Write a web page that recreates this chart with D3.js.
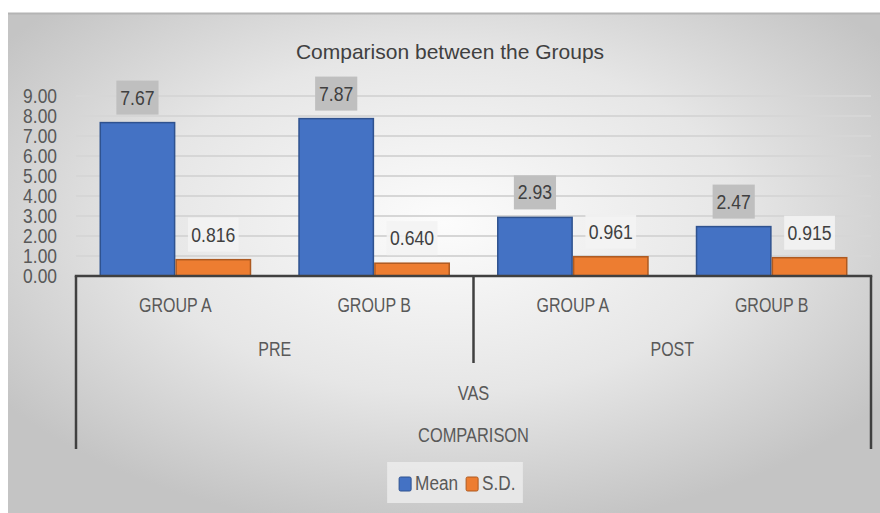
<!DOCTYPE html>
<html>
<head>
<meta charset="utf-8">
<script src="https://cdn.jsdelivr.net/npm/d3@7"></script>
<style>
  body { margin: 0; background: #fff; }
  svg { display: block; }
  text { font-family: "Liberation Sans", Arial, sans-serif; fill: #595959; }
</style>
</head>
<body>
<div id="chart"></div>
<script>
// chart values
const groups = ["GROUP A", "GROUP B", "GROUP A", "GROUP B"];
const phases = ["PRE", "POST"];
const outerLabels = ["VAS", "COMPARISON"];
const seriesNames = ["Mean", "S.D."];
const meanVals = [7.67, 7.87, 2.93, 2.47];
const sdVals = [0.816, 0.640, 0.961, 0.915];
const yTicks = [0, 1, 2, 3, 4, 5, 6, 7, 8, 9];

const width = 880, height = 513;
const colors = { "Mean": "#4472C4", "S.D.": "#ED7D31" };
const strokes = { "Mean": "#2F528F", "S.D.": "#AE5A21" };

// the source font is condensed, so squeeze the text horizontally
function squeeze(sel, k) {
  sel.each(function() {
    const w = this.getComputedTextLength();
    d3.select(this)
      .attr("textLength", w * k)
      .attr("lengthAdjust", "spacingAndGlyphs");
  });
}

const svg = d3.select("#chart").append("svg")
  .attr("width", width)
  .attr("height", height);

// background gradient
const defs = svg.append("defs");
const grad = defs.append("radialGradient")
  .attr("id", "bg")
  .attr("cx", "50%").attr("cy", "42%").attr("r", "62%");
grad.append("stop").attr("offset", "0%").attr("stop-color", "#fcfcfc");
grad.append("stop").attr("offset", "55%").attr("stop-color", "#e6e6e6");
grad.append("stop").attr("offset", "100%").attr("stop-color", "#c4c4c4");

svg.append("rect")
  .attr("x", 8).attr("y", 13)
  .attr("width", width - 8).attr("height", height - 13)
  .attr("fill", "url(#bg)");
svg.append("line")
  .attr("x1", 8).attr("x2", width)
  .attr("y1", 13.5).attr("y2", 13.5)
  .attr("stroke", "#b4b4b4").attr("stroke-width", 2);

// title
svg.append("text")
  .attr("x", 450).attr("y", 59)
  .attr("text-anchor", "middle")
  .style("font-size", "21px")
  .style("fill", "#404040")
  .text("Comparison between the Groups");

// scales
const plotLeft = 76, plotRight = 871;
const x0 = d3.scaleBand().domain(d3.range(groups.length)).range([plotLeft, plotRight]).padding(0);
const x1 = d3.scaleBand().domain(seriesNames).range([0, x0.bandwidth()]).paddingInner(0).paddingOuter(0.31);
const y = d3.scaleLinear().domain([0, 9]).range([276, 96]);

// gridlines
svg.append("g")
  .selectAll("line")
  .data(yTicks.filter(d => d > 0))
  .enter()
  .append("line")
  .attr("x1", plotLeft).attr("x2", plotRight)
  .attr("y1", d => y(d)).attr("y2", d => y(d))
  .attr("stroke", "#d6d6d6")
  .attr("stroke-width", 2);

// y axis labels
const yAxis = d3.axisLeft(y).tickValues(yTicks).tickFormat(d3.format(".2f")).tickSize(0).tickPadding(0);
const yG = svg.append("g")
  .attr("transform", "translate(57,0)")
  .call(yAxis);
yG.select(".domain").remove();
yG.selectAll("text")
  .style("font-size", "20px")
  .style("fill", "#595959")
  .style("font-family", "'Liberation Sans', Arial, sans-serif")
  .call(squeeze, 0.87);

// bars
const rows = groups.map((g, i) => ({ i, values: [
  { key: "Mean", v: meanVals[i], label: d3.format(".2f")(meanVals[i]) },
  { key: "S.D.", v: sdVals[i], label: d3.format(".3f")(sdVals[i]) }
] }));

const cat = svg.append("g")
  .selectAll("g")
  .data(rows)
  .enter()
  .append("g")
  .attr("transform", d => `translate(${x0(d.i)},0)`);

cat.selectAll("rect")
  .data(d => d.values)
  .enter()
  .append("rect")
  .attr("x", d => x1(d.key) + 0.75)
  .attr("width", x1.bandwidth() - 1.5)
  .attr("y", d => y(d.v))
  .attr("height", d => y(0) - y(d.v))
  .attr("fill", d => colors[d.key])
  .attr("stroke", d => strokes[d.key])
  .attr("stroke-width", 1.5);

// data labels with boxes
const lbl = cat.selectAll("g.lbl")
  .data(d => d.values)
  .enter()
  .append("g")
  .attr("class", "lbl");

lbl.each(function(d) {
  const g = d3.select(this);
  const cx = x1(d.key) + x1.bandwidth() / 2;
  const boxH = 34;
  const bottom = y(d.v) - 8;
  const box = g.append("rect")
    .attr("fill", d.key === "Mean" ? "#bfbfbf" : "#f3f3f3")
    .attr("opacity", d.key === "Mean" ? 1 : 0.9);
  const t = g.append("text")
    .attr("x", cx)
    .attr("y", bottom - boxH / 2 + 7)
    .attr("text-anchor", "middle")
    .style("font-size", "20px")
    .style("fill", "#404040")
    .text(d.label)
    .call(squeeze, 0.88);
  const w = t.node().getComputedTextLength() * 0.88 + 12;
  box.attr("x", cx - w / 2).attr("width", w)
    .attr("y", bottom - boxH).attr("height", boxH);
});

// category axis (multi-level)
const axisColor = "#404040";
const axisG = svg.append("g");
const nested = [
  { y1: 276, y2: 449, x: plotLeft },
  { y1: 276, y2: 363, x: x0(2) },
  { y1: 276, y2: 449, x: plotRight }
];
axisG.selectAll("line.v")
  .data(nested)
  .enter()
  .append("line")
  .attr("x1", d => d.x).attr("x2", d => d.x)
  .attr("y1", d => d.y1).attr("y2", d => d.y2)
  .attr("stroke", axisColor)
  .attr("stroke-width", 2.5);
axisG.append("line")
  .attr("x1", plotLeft - 1.25).attr("x2", plotRight + 1.25)
  .attr("y1", y(0)).attr("y2", y(0))
  .attr("stroke", axisColor)
  .attr("stroke-width", 2.5);

axisG.selectAll("text.grp")
  .data(groups)
  .enter()
  .append("text")
  .attr("x", (d, i) => x0(i) + x0.bandwidth() / 2)
  .attr("y", 312)
  .attr("text-anchor", "middle")
  .style("font-size", "20px")
  .text(d => d)
  .call(squeeze, 0.8);

axisG.selectAll("text.phase")
  .data(phases)
  .enter()
  .append("text")
  .attr("x", (d, i) => (x0(i * 2) + x0(i * 2 + 1) + x0.bandwidth()) / 2)
  .attr("y", 356)
  .attr("text-anchor", "middle")
  .style("font-size", "20px")
  .text(d => d)
  .call(squeeze, 0.8);

axisG.selectAll("text.outer")
  .data(outerLabels)
  .enter()
  .append("text")
  .attr("x", (plotLeft + plotRight) / 2)
  .attr("y", (d, i) => 400 + i * 42)
  .attr("text-anchor", "middle")
  .style("font-size", "20px")
  .text(d => d)
  .call(squeeze, 0.82);

// legend
const legend = svg.append("g");
const legBg = legend.append("rect").attr("fill", "#eeeeee").attr("opacity", 0.8);
let lx = 0;
seriesNames.forEach((name, i) => {
  legend.append("rect")
    .attr("x", lx).attr("y", 477)
    .attr("width", 12).attr("height", 14)
    .attr("rx", 1.5)
    .attr("fill", colors[name])
    .attr("stroke", strokes[name])
    .attr("stroke-width", 1);
  const t = legend.append("text")
    .attr("x", lx + 16).attr("y", 490)
    .style("font-size", "20px")
    .text(name)
    .call(squeeze, 0.86);
  lx += 16 + t.node().getComputedTextLength() * 0.86 + 14;
});
const legW = lx - 14;
const legCx = 455;
legend.attr("transform", `translate(${legCx - legW / 2},0)`);
legBg.attr("x", -12).attr("y", 462).attr("width", legW + 24).attr("height", 41);
</script>
</body>
</html>
